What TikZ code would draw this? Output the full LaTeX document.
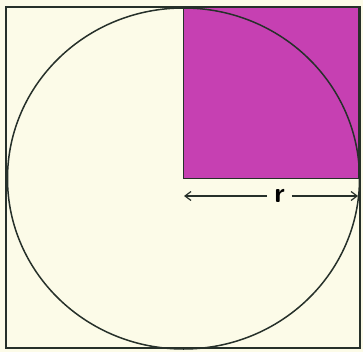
\documentclass[tikz,border=0pt]{standalone}
\usepackage{tikz}
\usetikzlibrary{arrows.meta}
\definecolor{paper}{RGB}{252,251,232}
\definecolor{quad}{RGB}{198,64,178}
\definecolor{ink}{RGB}{38,48,42}

\begin{document}
\begin{tikzpicture}[x=1pt,y=1pt,yscale=-1]
\useasboundingbox (0,0) rectangle (363,352);
\fill[paper] (0,0) rectangle (363,352);

%Shape: outer square
\draw[ink, line width=1.4pt] (6,7) rectangle (360,348);
%Shape: shaded quarter
\coordinate (O) at (183.5,178.5);
\coordinate (C) at (359,7);
\draw[ink, fill=quad, line width=1.4pt] (O) rectangle (C);
%Shape: Circle
\draw[ink, line width=1.5pt] (O) ellipse (176 and 170.5);

% radius arrow
\coordinate (a) at (184,196);
\coordinate (b) at (358,196);
\node[inner sep=7pt, font=\sffamily\bfseries\fontsize{28}{28}\selectfont] (r) at (279.5,196) {r};
\draw[ink, line width=1.2pt, -{Straight Barb[length=6pt,width=9pt]}] (r.west |- a) -- (a);
\draw[ink, line width=1.2pt, -{Straight Barb[length=6pt,width=9pt]}] (r.east |- b) -- (b);

\end{tikzpicture}
\end{document}
